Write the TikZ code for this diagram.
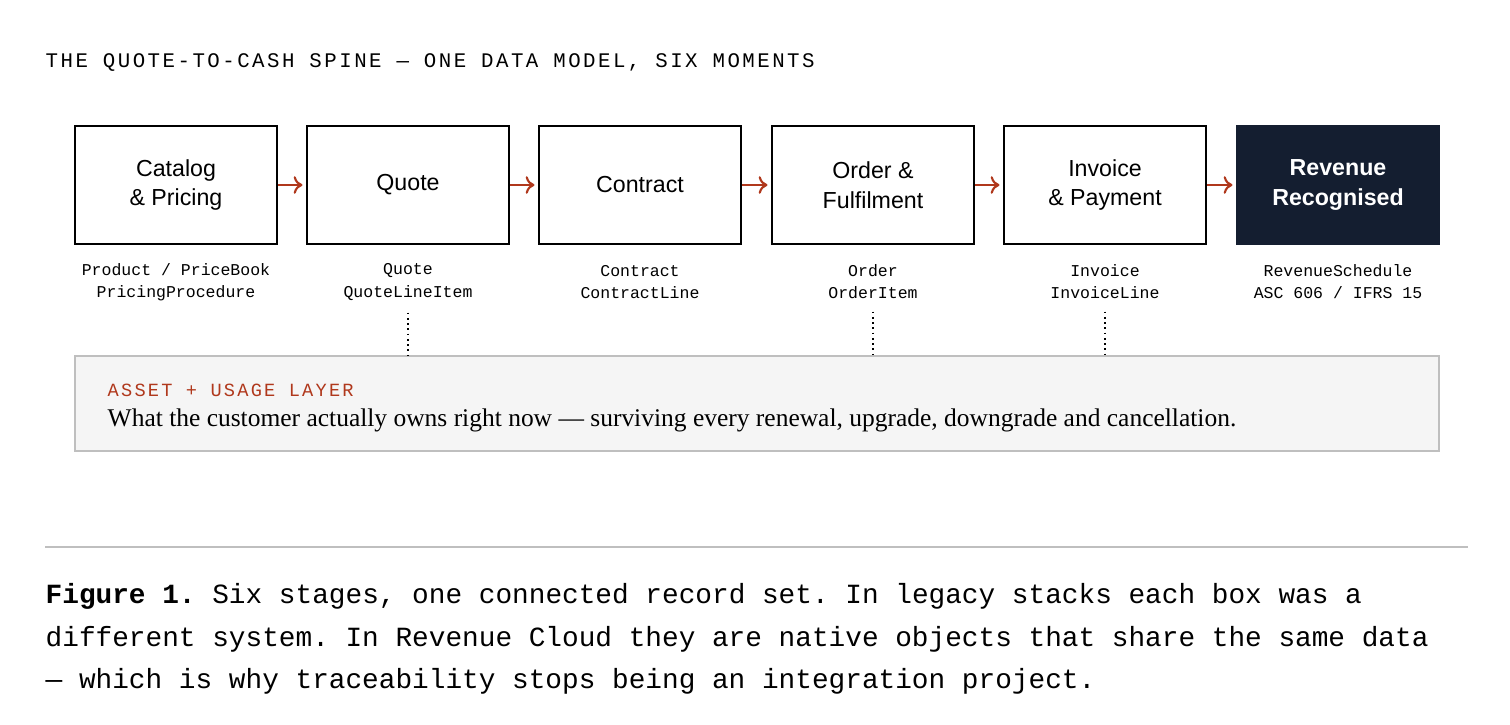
\documentclass[tikz,border=0pt]{standalone}
\usepackage{fontspec}
\usetikzlibrary{arrows.meta}
\setmainfont{Liberation Serif}
\setsansfont{Liberation Sans}
\setmonofont{Liberation Mono}
\newfontfamily\spacedmono[LetterSpace=12]{Liberation Mono}
\definecolor{navy}{HTML}{141E30}
\definecolor{rust}{HTML}{B0381C}
\tikzset{
  stage/.style={draw=black, line width=0.6pt, minimum width=2.02cm, minimum height=1.18cm, align=center, font=\sffamily\fontsize{6.6}{8.4}\selectfont},
  records/.style={align=center, font=\ttfamily\fontsize{4.7}{6.3}\selectfont},
  flow/.style={rust, line width=0.6pt, shorten >=1pt, -{To[length=2.5pt, width=5pt]}},
  link/.style={black, densely dotted, line width=0.5pt}
}
\begin{document}
\begin{tikzpicture}
      \useasboundingbox (0,0) rectangle (15.1,7.24);
      \fill[white] (0,0) rectangle (15.1,7.24);
      \node[anchor=west, inner sep=0pt, font=\spacedmono\fontsize{5.9}{7}\selectfont] (T) at (0.45,6.61) {THE QUOTE-TO-CASH SPINE — ONE DATA MODEL, SIX MOMENTS};
      \node[stage] (S1) at (1.76,5.39) {Catalog\\\& Pricing};
      \node[stage] (S2) at (4.08,5.39) {Quote};
      \node[stage] (S3) at (6.40,5.39) {Contract};
      \node[stage] (S4) at (8.73,5.39) {Order \&\\Fulfilment};
      \node[stage] (S5) at (11.05,5.39) {Invoice\\\& Payment};
      \node[stage, fill=navy, draw=navy, text=white, font=\sffamily\bfseries\fontsize{6.6}{8.4}\selectfont] (S6) at (13.38,5.39) {Revenue\\Recognised};
      \draw[flow] (S1) -- (S2);
      \draw[flow] (S2) -- (S3);
      \draw[flow] (S3) -- (S4);
      \draw[flow] (S4) -- (S5);
      \draw[flow] (S5) -- (S6);
      \node[records] (R1) at (1.76,4.42) {Product / PriceBook\\PricingProcedure};
      \node[records] (R2) at (4.08,4.42) {Quote\\QuoteLineItem};
      \node[records] (R3) at (6.40,4.42) {Contract\\ContractLine};
      \node[records] (R4) at (8.73,4.42) {Order\\OrderItem};
      \node[records] (R5) at (11.05,4.42) {Invoice\\InvoiceLine};
      \node[records] (R6) at (13.38,4.42) {RevenueSchedule\\ASC 606 / IFRS 15};
      \node[draw=black!25, fill=black!4, line width=0.5pt, minimum width=13.64cm, minimum height=0.95cm] (L) at (7.57,3.205) {};
      \node[anchor=west, inner sep=0pt, text=rust, font=\spacedmono\fontsize{5.3}{6}\selectfont] (LT) at (1.07,3.34) {ASSET + USAGE LAYER};
      \node[anchor=west, inner sep=0pt, font=\fontsize{7.25}{8}\selectfont] (LD) at (1.07,3.04) {What the customer actually owns right now — surviving every renewal, upgrade, downgrade and cancellation.};
      \draw[link] (R2.south) -- (R2.south |- L.north);
      \draw[link] (R4.south) -- (R4.south |- L.north);
      \draw[link] (R5.south) -- (R5.south |- L.north);
      \draw[black!25, line width=0.6pt] (0.45,1.77) -- (14.68,1.77);
      \node[anchor=north west, align=left, inner sep=0pt, font=\ttfamily\fontsize{7.9}{12}\selectfont] (C) at (0.45,1.41) {\textbf{Figure 1.} Six stages, one connected record set. In legacy stacks each box was a\\different system. In Revenue Cloud they are native objects that share the same data\\— which is why traceability stops being an integration project.};
\end{tikzpicture}
\end{document}
